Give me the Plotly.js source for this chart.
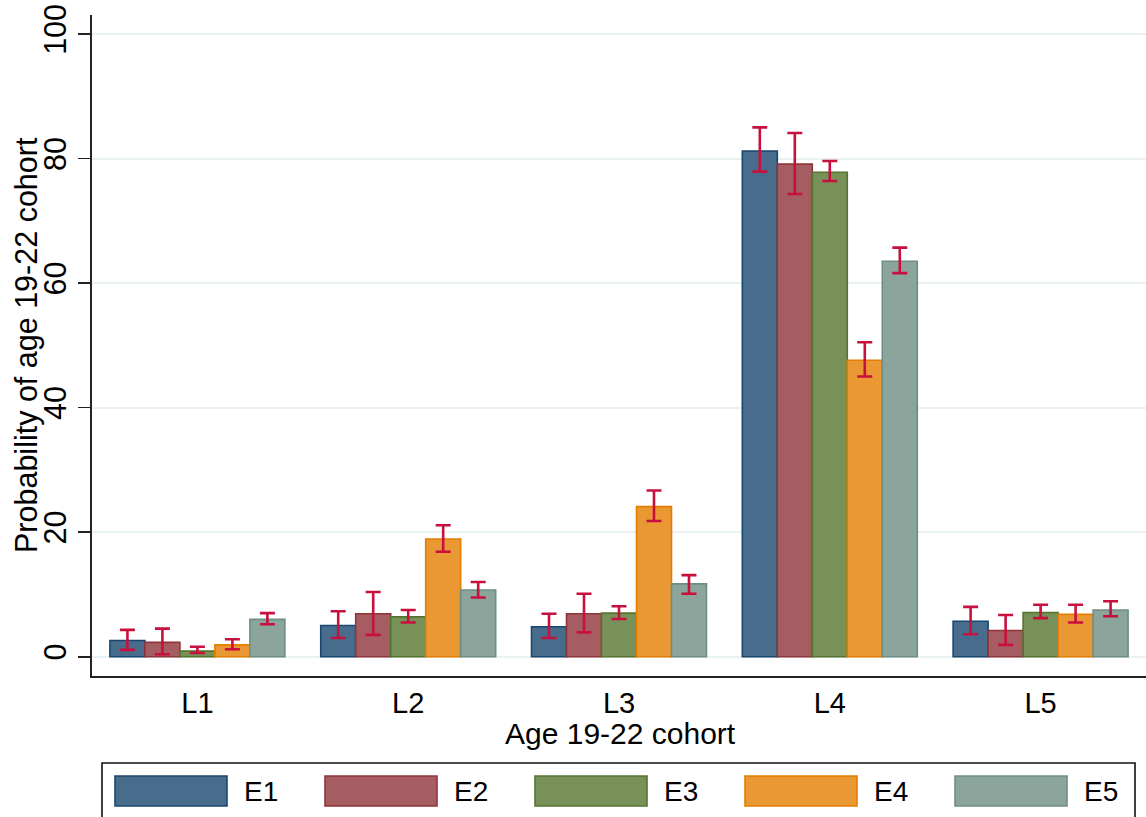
<!DOCTYPE html>
<html>
<head>
<meta charset="utf-8">
<script src="https://cdn.plot.ly/plotly-3.0.1.min.js"></script>
<style>
  html, body { margin: 0; padding: 0; background: #ffffff; overflow: hidden; }
  #chart { width: 1146px; height: 817px; }
</style>
</head>
<body>
<div id="chart"></div>
<script>
// Categories on the x axis and series shown in each group
const categories = ['L1', 'L2', 'L3', 'L4', 'L5'];
const seriesNames = ['E1', 'E2', 'E3', 'E4', 'E5'];

// Estimated probability (%) per category, one array per series
const e1Values = [2.6, 5.0, 4.8, 81.2, 5.7];
const e2Values = [2.3, 6.9, 6.9, 79.1, 4.2];
const e3Values = [0.9, 6.4, 7.0, 77.8, 7.1];
const e4Values = [1.9, 18.9, 24.1, 47.6, 6.8];
const e5Values = [6.0, 10.7, 11.7, 63.5, 7.5];

// Confidence interval upper bounds
const e1Upper = [4.3, 7.3, 6.9, 85.0, 8.0];
const e2Upper = [4.5, 10.4, 10.1, 84.1, 6.7];
const e3Upper = [1.6, 7.5, 8.1, 79.6, 8.35];
const e4Upper = [2.8, 21.1, 26.7, 50.5, 8.35];
const e5Upper = [7.0, 12.0, 13.1, 65.7, 8.9];

// Confidence interval lower bounds
const e1Lower = [1.1, 3.0, 3.0, 77.9, 3.6];
const e2Lower = [0.4, 3.5, 3.9, 74.3, 1.9];
const e3Lower = [0.6, 5.5, 6.05, 76.4, 6.2];
const e4Lower = [1.2, 16.85, 21.8, 45.0, 5.5];
const e5Lower = [5.2, 9.5, 10.1, 61.6, 6.5];

// Y axis ticks
const yTickValues = [0, 20, 40, 60, 80, 100];
const yTickLabels = ['0', '20', '40', '60', '80', '100'];

// Axis titles
const xTitle = 'Age 19-22 cohort';
const yTitle = 'Probability of age 19-22 cohort';

// Stata-like palette: fill is a lighter tint of the outline colour
const fillColors = ['#486c8c', '#a65d62', '#779159', '#e99833', '#8ba59d'];
const lineColors = ['#1a476f', '#90353b', '#55752f', '#e37e00', '#6e8e84'];
const ciColor = '#c8103f';

const values = [e1Values, e2Values, e3Values, e4Values, e5Values];
const uppers = [e1Upper, e2Upper, e3Upper, e4Upper, e5Upper];
const lowers = [e1Lower, e2Lower, e3Lower, e4Lower, e5Lower];

const FONT = 'Liberation Sans, Arial, sans-serif';

const traces = seriesNames.map((name, i) => ({
  type: 'bar',
  name: name,
  x: categories,
  y: values[i],
  marker: { color: fillColors[i], line: { color: lineColors[i], width: 1.6 } },
  error_y: {
    type: 'data',
    symmetric: false,
    array: values[i].map((v, k) => uppers[i][k] - v),
    arrayminus: values[i].map((v, k) => v - lowers[i][k]),
    color: ciColor,
    thickness: 2.6,
    width: 7.5
  },
  showlegend: false,
  hoverinfo: 'x+y+name'
}));

// Page geometry used to place the axis titles and the boxed legend
const W = 1146, H = 817;
const M = { l: 92, r: 0, t: 15, b: 141 };
const plotW = W - M.l - M.r;
const plotH = H - M.t - M.b;
const px = (x) => (x - M.l) / plotW;
const py = (y) => (H - M.b - y) / plotH;

const shapes = [];
const annotations = [];

// Vertical y axis title, set close to the page edge
annotations.push({
  xref: 'paper', yref: 'paper', x: px(26), y: py(345),
  xanchor: 'center', yanchor: 'middle', textangle: -90, showarrow: false,
  text: yTitle, font: { family: FONT, size: 30.5, color: '#000000' }
});

// X axis title, directly under the category labels
annotations.push({
  xref: 'paper', yref: 'paper', x: px(620), y: py(733),
  xanchor: 'center', yanchor: 'middle', showarrow: false,
  text: xTitle, font: { family: FONT, size: 30, color: '#000000' }
});

// Legend frame (runs off the bottom edge of the page)
shapes.push({
  type: 'rect', xref: 'paper', yref: 'paper', layer: 'above',
  x0: px(102), x1: px(1135), y0: py(830), y1: py(763),
  line: { color: '#111111', width: 1.6 }, fillcolor: 'rgba(0,0,0,0)'
});

// Legend swatches and labels, one slot per series
const slot = 210;
seriesNames.forEach((name, i) => {
  const left = 115 + slot * i;
  shapes.push({
    type: 'rect', xref: 'paper', yref: 'paper', layer: 'above',
    x0: px(left), x1: px(left + 112), y0: py(806), y1: py(776),
    fillcolor: fillColors[i], line: { color: lineColors[i], width: 1.6 }
  });
  annotations.push({
    xref: 'paper', yref: 'paper', x: px(left + 127), y: py(791),
    xanchor: 'left', yanchor: 'middle', showarrow: false,
    text: name, font: { family: FONT, size: 28, color: '#000000' }
  });
});

const layout = {
  width: W,
  height: H,
  margin: M,
  paper_bgcolor: '#ffffff',
  plot_bgcolor: '#ffffff',
  barmode: 'group',
  bargap: 0.17,
  bargroupgap: 0,
  showlegend: false,
  font: { family: FONT, color: '#000000' },
  xaxis: {
    type: 'category',
    range: [-0.5, 4.5],
    showline: true,
    linecolor: '#222222',
    linewidth: 1.8,
    ticks: '',
    showgrid: false,
    zeroline: false,
    tickfont: { family: FONT, size: 29, color: '#000000' },
    automargin: false
  },
  yaxis: {
    range: [-3.1, 103.05],
    tickvals: yTickValues,
    ticktext: yTickLabels,
    tickangle: -90,
    ticks: 'outside',
    ticklen: 12,
    tickwidth: 1.6,
    tickcolor: '#222222',
    showline: true,
    linecolor: '#222222',
    linewidth: 1.8,
    showgrid: true,
    gridcolor: '#e9f1f3',
    gridwidth: 2,
    zeroline: false,
    tickfont: { family: FONT, size: 30.5, color: '#000000' },
    automargin: false
  },
  shapes: shapes,
  annotations: annotations
};

Plotly.newPlot('chart', traces, layout, { displayModeBar: false, staticPlot: true });
</script>
</body>
</html>
